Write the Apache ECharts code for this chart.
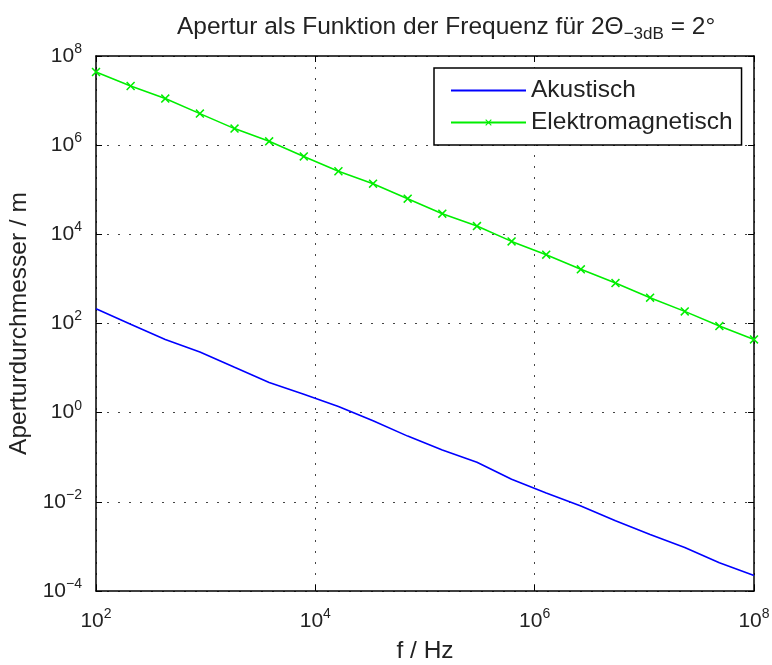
<!DOCTYPE html>
<html><head><meta charset="UTF-8">
<title>Apertur</title>
<script src="https://cdn.jsdelivr.net/npm/echarts@6/dist/echarts.min.js"></script>
<style>
  *{margin:0;padding:0;}
  html,body{width:100%;height:100%;background:#fff;}
  #chart{width:772px;height:665px;}
</style>
</head>
<body>
<div id="chart"></div>
<script>
    // Frequenzen (logarithmisch verteilt, 20 Punkte)
    var freq = [100, 206.9, 428.1, 885.9, 1833, 3793, 7848, 16238, 33598, 69519,
                143845, 297635, 615848, 1274275, 2636651, 5455595, 11288379, 23357215, 48329302, 100000000];
    // Aperturdurchmesser in m
    var akustisch = [215, 96.6, 44, 23, 10.4, 4.77, 2.59, 1.37, 0.66, 0.298,
                     0.145, 0.0773, 0.032, 0.0157, 0.0081, 0.00375, 0.00186, 0.000944, 0.00043, 0.000223];
    var elektro = [4.38e7, 2.12e7, 1.11e7, 5.1e6, 2.35e6, 1.22e6, 5.6e5, 2.6e5, 1.37e5, 6.3e4,
                   2.91e4, 1.53e4, 6950, 3500, 1640, 807, 379, 187, 87.5, 44];
    var seriesNames = ['Akustisch', 'Elektromagnetisch'];

    function pairs(xs, ys){
        var out = [];
        for (var i = 0; i < xs.length; i++) out.push([xs[i], ys[i]]);
        return out;
    }
    function powLabel(v){
        var e = Math.round(Math.log10(v));
        return '{b|10}{s|' + (e < 0 ? '\u2212' + (-e) : e) + '}';
    }
    var font = 'Liberation Sans';
    var tickRich = {
        b: {fontSize: 21, color: '#222', fontFamily: font, verticalAlign: 'middle', lineHeight: 28},
        s: {fontSize: 14, color: '#222', fontFamily: font, verticalAlign: 'top', lineHeight: 10}
    };
    var frame = {show: true, onZero: false, lineStyle: {color: '#000', width: 1.5}};
    var tick = {show: true, inside: true, length: 6, lineStyle: {color: '#000'}};
    var dotted = {show: true, lineStyle: {color: '#444', type: [2, 9], width: 1}};
    var xMark = 'path://M0,1.2L1.2,0L5,3.8L8.8,0L10,1.2L6.2,5L10,8.8L8.8,10L5,6.2L1.2,10L0,8.8L3.8,5Z';

    var myChart = echarts.init(document.getElementById('chart'));
    myChart.setOption({
        animation: false,
        title: {
            text: 'Apertur als Funktion der Frequenz für 2Θ{sub|\u22123dB} = 2°',
            left: 172, top: 7,
            textStyle: {
                fontSize: 24.5, fontWeight: 'normal', color: '#222', fontFamily: font,
                rich: {sub: {fontSize: 17, color: '#222', fontFamily: font, verticalAlign: 'bottom', padding: [14, 0, 0, 0]}}
            }
        },
        legend: {
            data: [{name: seriesNames[0], itemStyle: {opacity: 0}}, seriesNames[1]],
            left: 434, top: 68,
            orient: 'vertical',
            itemWidth: 75, itemHeight: 8, itemGap: 7, itemTextGap: 8,
            padding: [10, 9, 10, 16],
            backgroundColor: '#fff',
            borderColor: '#000', borderWidth: 1.5, borderRadius: 0,
            textStyle: {fontSize: 24.5, color: '#222', fontFamily: font}
        },
        grid: {left: 96, right: 18, top: 56, bottom: 74, outerBoundsMode: 'none'},
        xAxis: [{
            type: 'log', min: 1e2, max: 1e8, interval: 2,
            name: 'f / Hz', nameLocation: 'middle', nameGap: 48,
            nameTextStyle: {fontSize: 24.5, color: '#222', fontFamily: font},
            axisLine: frame, axisTick: tick, splitLine: dotted,
            minorTick: {show: false},
            axisLabel: {formatter: powLabel, rich: tickRich, margin: 16}
        }, {
            type: 'log', min: 1e2, max: 1e8, interval: 2, position: 'top',
            axisLine: frame, axisTick: tick, splitLine: {show: false}, axisLabel: {show: false}
        }],
        yAxis: [{
            type: 'log', min: 1e-4, max: 1e8, interval: 2,
            name: 'Aperturdurchmesser / m', nameLocation: 'middle', nameGap: 61,
            nameTextStyle: {fontSize: 24.5, color: '#222', fontFamily: font},
            axisLine: frame, axisTick: tick, splitLine: dotted,
            axisLabel: {formatter: powLabel, rich: tickRich, margin: 14}
        }, {
            type: 'log', min: 1e-4, max: 1e8, interval: 2, position: 'right',
            axisLine: frame, axisTick: tick, splitLine: {show: false}, axisLabel: {show: false}
        }],
        series: [{
            name: seriesNames[0], type: 'line',
            data: pairs(freq, akustisch),
            symbol: 'none',
            lineStyle: {color: '#0000ff', width: 1.6},
            itemStyle: {color: '#0000ff'}
        }, {
            name: seriesNames[1], type: 'line',
            data: pairs(freq, elektro),
            symbol: xMark, symbolSize: 9,
            lineStyle: {color: '#00ee00', width: 1.6},
            itemStyle: {color: '#00ee00'}
        }]
    });
</script>
</body></html>
